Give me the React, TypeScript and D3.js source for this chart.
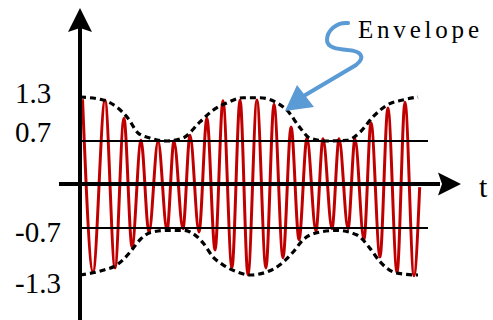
import React, { useEffect, useRef } from 'react';
import * as d3 from 'd3';

// carrier extremes: [t, value]
const carrierPeaks: [number, number][] = [
  [0.15, 1.27], [1.48, 1.26], [2.6, 1.01], [3.61, 0.71], [4.62, 0.7],
  [5.56, 0.7], [6.51, 0.78], [7.51, 1.01], [8.46, 1.25], [9.47, 1.26],
  [10.47, 1.26], [11.48, 1.2], [12.49, 0.89], [13.43, 0.74], [14.38, 0.73],
  [15.33, 0.73], [16.27, 0.73], [17.22, 0.95], [18.22, 1.15], [19.23, 1.23],
];
const carrierTroughs: [number, number][] = [
  [0.77, -1.26], [2.07, -1.21], [3.08, -0.94], [4.08, -0.76], [5.15, -0.73],
  [6.09, -0.71], [7.04, -0.75], [7.99, -0.98], [8.99, -1.21], [9.94, -1.3],
  [11.0, -1.21], [12.01, -1.08], [12.96, -0.85], [13.96, -0.74], [14.91, -0.71],
  [15.86, -0.71], [16.8, -0.85], [17.75, -1.07], [18.76, -1.27], [19.76, -1.31],
];
const carrierEnd: [number, number] = [20.1, -0.05];

// dashed envelope, upper and lower
const envelopeTop: [number, number][] = [
  [0, 1.3], [1.36, 1.26], [2.19, 1.16], [2.84, 1.01], [3.43, 0.81], [4.14, 0.74],
  [5.15, 0.7], [6.09, 0.74], [7.1, 0.96], [7.87, 1.12], [8.7, 1.22], [9.64, 1.29],
  [10.65, 1.29], [11.66, 1.22], [12.25, 1.12], [13.02, 0.88], [13.6, 0.74],
  [14.62, 0.7], [15.8, 0.71], [16.57, 0.82], [17.34, 1.03], [18.17, 1.19],
  [19.11, 1.26], [20.0, 1.3],
];
const envelopeBottom: [number, number][] = [
  [0, -1.3], [1.36, -1.24], [2.19, -1.17], [2.96, -1.01], [3.55, -0.85], [4.14, -0.76],
  [5.15, -0.73], [6.09, -0.73], [6.51, -0.75], [7.28, -0.89], [7.87, -1.07],
  [8.46, -1.17], [9.29, -1.26], [10.06, -1.3], [11.07, -1.26], [11.83, -1.17],
  [12.6, -1.01], [13.2, -0.85], [14.02, -0.76], [15.21, -0.73], [16.39, -0.79],
  [17.16, -0.96], [17.75, -1.13], [18.52, -1.26], [19.23, -1.29], [20.0, -1.3],
];

const tickValues = [1.3, 0.7, -0.7, -1.3];
const tickLabels = ['1.3', '0.7', '-0.7', '-1.3'];
const refLines = [0.7, -0.7];

const W = 493;
const H = 320;
const labelDy = [6, 1, 14, 18];
const serif = '"Liberation Serif", "Times New Roman", serif';

const App = () => {
  const svgRef = useRef<SVGSVGElement>(null);

  useEffect(() => {
    const svg = d3.select(svgRef.current);
    svg.selectAll('*').remove();

    const x = d3.scaleLinear().domain([0, 20]).range([80, 418]);
    // piecewise scale so the 0.7 and 1.3 marks land where they are drawn
    const y = d3.scaleLinear()
      .domain([-1.3, -0.7, 0, 0.7, 1.3])
      .range([275, 228, 184, 141, 97]);

    svg.append('rect').attr('width', W).attr('height', H).attr('fill', '#fff');

    // carrier
    const carrier = [...carrierPeaks, ...carrierTroughs, carrierEnd].sort((a, b) => a[0] - b[0]);
    const line = d3.line<[number, number]>()
      .x(d => x(d[0]))
      .y(d => y(d[1]))
      .curve(d3.curveMonotoneX);

    svg.append('path')
      .attr('d', line(carrier))
      .attr('fill', 'none')
      .attr('stroke', '#c00000')
      .attr('stroke-width', 3);

    // +-0.7 reference lines
    svg.selectAll('.ref')
      .data(refLines)
      .enter().append('line')
      .attr('x1', x(0))
      .attr('x2', 428)
      .attr('y1', d => y(d))
      .attr('y2', d => y(d))
      .attr('stroke', '#000')
      .attr('stroke-width', 1.8);

    // axes
    svg.append('line')
      .attr('x1', 59).attr('x2', 440)
      .attr('y1', y(0)).attr('y2', y(0))
      .attr('stroke', '#000').attr('stroke-width', 4);
    svg.append('path')
      .attr('d', `M461,${y(0)} L438,${y(0) - 11.5} L442,${y(0)} L438,${y(0) + 11.5} Z`)
      .attr('fill', '#000');

    svg.append('line')
      .attr('x1', x(0)).attr('x2', x(0))
      .attr('y1', 28).attr('y2', H)
      .attr('stroke', '#000').attr('stroke-width', 4);
    svg.append('path')
      .attr('d', `M${x(0)},8 L${x(0) - 12},32 L${x(0)},28 L${x(0) + 12},32 Z`)
      .attr('fill', '#000');

    // envelope
    [envelopeTop, envelopeBottom].forEach(env => {
      svg.append('path')
        .attr('d', line(env))
        .attr('fill', 'none')
        .attr('stroke', '#000')
        .attr('stroke-width', 3.2)
        .attr('stroke-dasharray', '6 4');
    });

    // tick labels
    svg.selectAll('.tick-label')
      .data(tickValues)
      .enter().append('text')
      .attr('x', 15)
      .attr('y', (d, i) => y(d) + labelDy[i])
      .style('font-family', serif)
      .style('font-size', '29px')
      .text((d, i) => tickLabels[i]);

    svg.append('text')
      .attr('x', 479)
      .attr('y', 197)
      .style('font-family', serif)
      .style('font-size', '30px')
      .text('t');

    // annotation
    svg.append('text')
      .attr('x', 358)
      .attr('y', 38)
      .attr('textLength', 121)
      .attr('lengthAdjust', 'spacing')
      .style('font-family', serif)
      .style('font-size', '25px')
      .text('Envelope');

    svg.append('path')
      .attr('d', 'M348,23 C336,22 327,31 327,40 C327,48 338,49 348,50 C361,51 366,57 356,65 L302,97')
      .attr('fill', 'none')
      .attr('stroke', '#5b9bd5')
      .attr('stroke-width', 4)
      .attr('stroke-linecap', 'round');
    svg.append('path')
      .attr('d', 'M285,111 L297,85 L314,107 Z')
      .attr('fill', '#5b9bd5');
  }, []);

  return (
    <svg
      ref={svgRef}
      width={W}
      height={H}
      style={{ position: 'absolute', left: 0, top: 0 }}
    />
  );
};

export default App;
